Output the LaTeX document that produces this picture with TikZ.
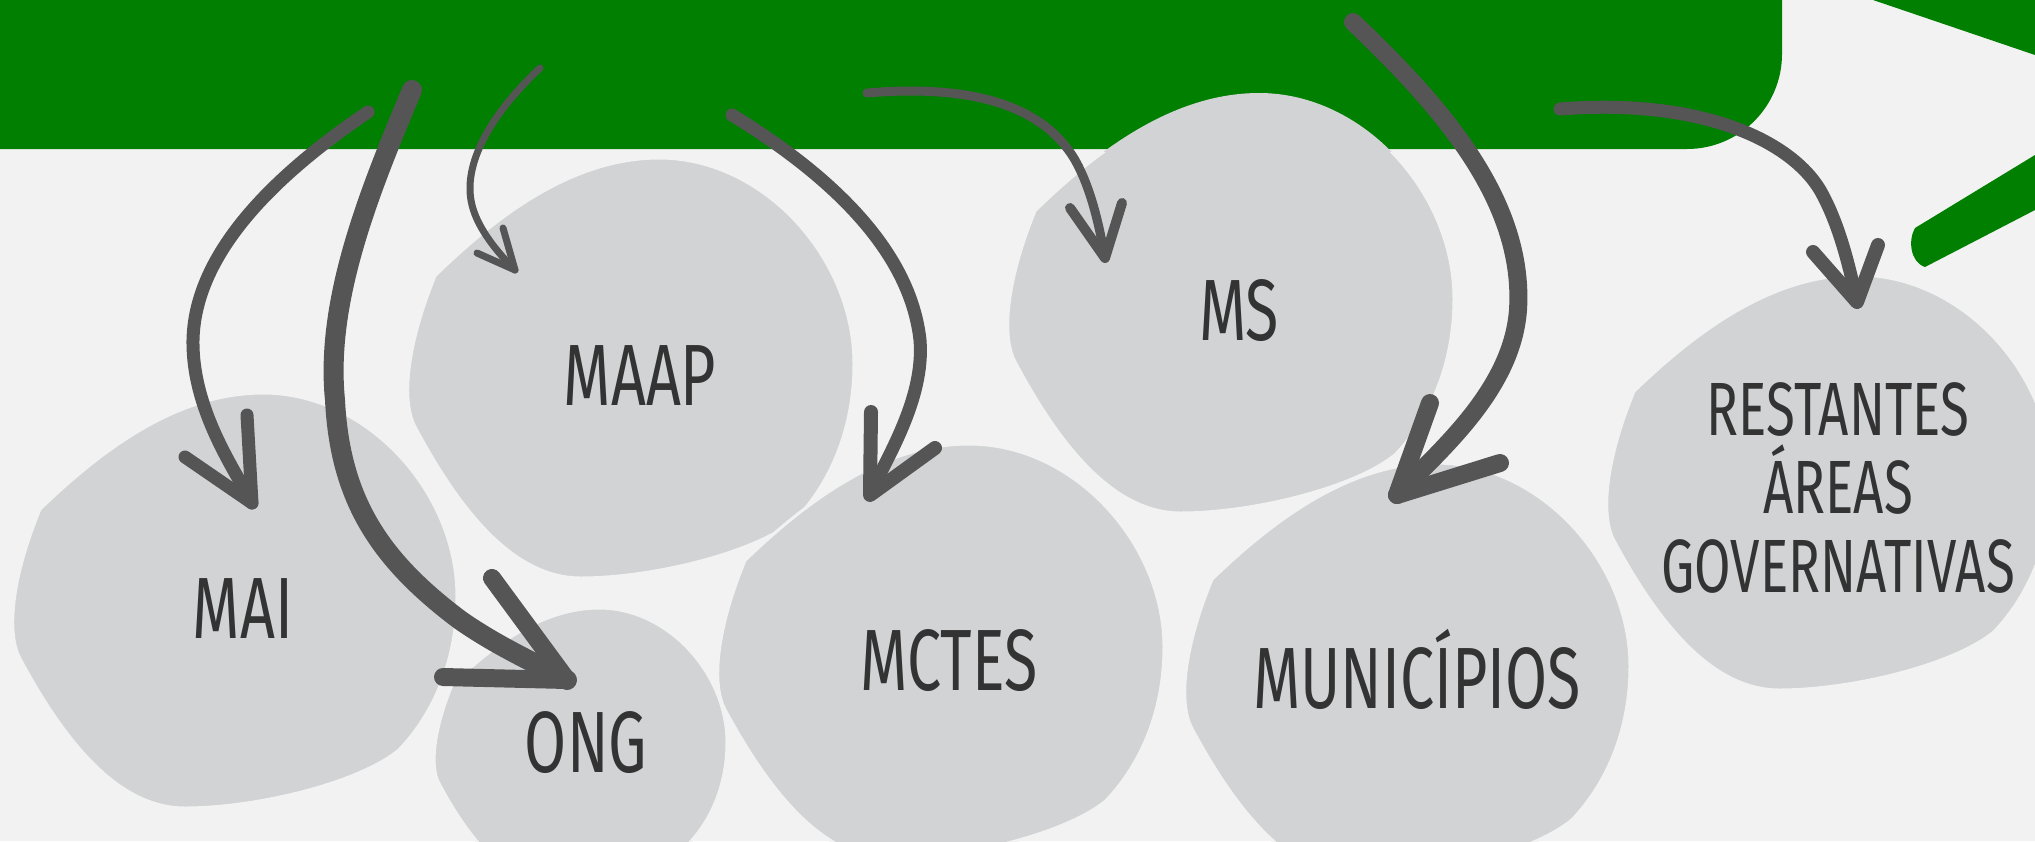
\documentclass[tikz,border=0pt]{standalone}
\usepackage{fontspec}
\setmainfont{Fira Sans}[FakeStretch=0.7]
\definecolor{bgc}{HTML}{F2F2F2}
\definecolor{grn}{HTML}{007F00}
\definecolor{blobc}{HTML}{D1D3D4}
\definecolor{arrc}{HTML}{555555}
\definecolor{txtc}{HTML}{333333}
\tikzset{
  blobfill/.style={fill=blobc},
  blobedge/.style={draw=bgc, line width=3pt},
  arrowline/.style={draw=arrc, line cap=round, line join=round},
  lbl/.style={text=txtc, font=\fontsize{87}{87}\selectfont, inner sep=0pt, anchor=base},
  lblsmall/.style={text=txtc, font=\fontsize{75.5}{78}\selectfont, inner sep=0pt, anchor=base},
}
\newcommand\blobshape[4]{%
  \begin{scope}[shift={(#1,#2)},xscale=#3,yscale=#4]
    \path[blobfill] (0.065,0.28) .. controls (0.2,0.14) and (0.37,0.0) .. (0.565,0.0)
      .. controls (0.80,0.0) and (1.0,0.24) .. (1.0,0.49)
      .. controls (1.0,0.64) and (0.95,0.77) .. (0.87,0.86)
      .. controls (0.78,0.94) and (0.55,1.0) .. (0.39,1.0)
      .. controls (0.24,1.0) and (0.12,0.84) .. (0.02,0.64)
      .. controls (-0.01,0.58) and (0.0,0.45) .. (0.065,0.28) -- cycle;
  \end{scope}
  \begin{scope}
    \clip (0,152) rectangle (2035,841);
    \begin{scope}[shift={(#1,#2)},xscale=#3,yscale=#4]
    \path[blobedge] (0.065,0.28) .. controls (0.2,0.14) and (0.37,0.0) .. (0.565,0.0)
      .. controls (0.80,0.0) and (1.0,0.24) .. (1.0,0.49)
      .. controls (1.0,0.64) and (0.95,0.77) .. (0.87,0.86)
      .. controls (0.78,0.94) and (0.55,1.0) .. (0.39,1.0)
      .. controls (0.24,1.0) and (0.12,0.84) .. (0.02,0.64)
      .. controls (-0.01,0.58) and (0.0,0.45) .. (0.065,0.28) -- cycle;
    \end{scope}
  \end{scope}}
\begin{document}
\begin{tikzpicture}[x=1pt,y=-1pt]
\useasboundingbox (0,0) rectangle (2035,841);
\fill[bgc] (0,0) rectangle (2035,841);
% green banner and brush strokes
\fill[grn] (0,0) -- (1782,0) -- (1782,54) arc[start angle=0,end angle=90,radius=95] -- (0,149) -- cycle;
\fill[grn] (1873,0) -- (2035,0) -- (2035,55) -- (1873,0) -- cycle;
\fill[grn] (1915,228) -- (2035,155) -- (2035,210) -- (1925,267) .. controls (1910,262) and (1908,240) .. (1915,228) -- cycle;
% blobs
\blobshape{11}{393}{446}{415}
\blobshape{406}{158}{448}{420}
\blobshape{433}{608}{294}{274}
\blobshape{716}{444}{448}{415}
\blobshape{1006}{93}{448}{420}
\blobshape{1183}{463}{447}{415}
\blobshape{1605}{275}{447}{415}
% labels
\node[lbl] (mai) at (243,638) {MAI};
\node[lbl] (maap) at (640,405) {MAAP};
\node[lbl] (ong) at (586,772) {ONG};
\node[lbl] (mctes) at (949,690) {MCTES};
\node[lbl] (ms) at (1239,340) {MS};
\node[lbl] (mun) at (1417,708) {MUNICÍPIOS};
\node[lblsmall] (rest1) at (1838,435) {RESTANTES};
\node[lblsmall] (rest2) at (1838,513) {ÁREAS};
\node[lblsmall] (rest3) at (1838,592) {GOVERNATIVAS};
% arrow end points
\coordinate (a1s) at (368,112); \coordinate (a1t) at (252,503);
\coordinate (a2s) at (412,90);  \coordinate (a2t) at (567,680);
\coordinate (a3s) at (540,68);  \coordinate (a3t) at (515,270);
\coordinate (a4s) at (732,115); \coordinate (a4t) at (870,495);
\coordinate (a5s) at (867,93);  \coordinate (a5t) at (1105,258);
\coordinate (a6s) at (1353,22); \coordinate (a6t) at (1397,495);
\coordinate (a7s) at (1560,109); \coordinate (a7t) at (1857,302);
% arrows
\draw[arrowline, line width=13pt] (a1s) .. controls (290,165) and (195,245) .. (193,340) .. controls (192,410) and (235,470) .. (a1t);
\draw[arrowline, line width=13pt] (185,457) -- (a1t) -- (247,415);
\draw[arrowline, line width=20pt] (a2s) .. controls (370,190) and (325,300) .. (335,400) .. controls (340,500) and (380,560) .. (460,620) .. controls (500,648) and (540,665) .. (a2t);
\draw[arrowline, line width=18pt] (492,578) -- (a2t) -- (443,677);
\draw[arrowline, line width=7pt] (a3s) .. controls (490,115) and (462,165) .. (472,205) .. controls (478,230) and (500,255) .. (a3t);
\draw[arrowline, line width=7pt] (477,253) -- (a3t) -- (503,228);
\draw[arrowline, line width=13pt] (a4s) .. controls (830,175) and (910,250) .. (920,340) .. controls (925,400) and (885,460) .. (a4t);
\draw[arrowline, line width=14pt] (871,412) -- (a4t) -- (935,448);
\draw[arrowline, line width=9pt] (a5s) .. controls (960,85) and (1040,100) .. (1075,160) .. controls (1092,190) and (1100,230) .. (a5t);
\draw[arrowline, line width=10pt] (1070,208) -- (a5t) -- (1122,203);
\draw[arrowline, line width=18pt] (a6s) .. controls (1440,105) and (1525,200) .. (1518,310) .. controls (1512,390) and (1440,450) .. (a6t);
\draw[arrowline, line width=18pt] (1430,403) -- (a6t) -- (1500,463);
\draw[arrowline, line width=13pt] (a7s) .. controls (1700,98) and (1790,140) .. (1820,190) .. controls (1840,225) and (1850,270) .. (a7t);
\draw[arrowline, line width=14pt] (1813,252) -- (a7t) -- (1878,245);
\end{tikzpicture}
\end{document}
